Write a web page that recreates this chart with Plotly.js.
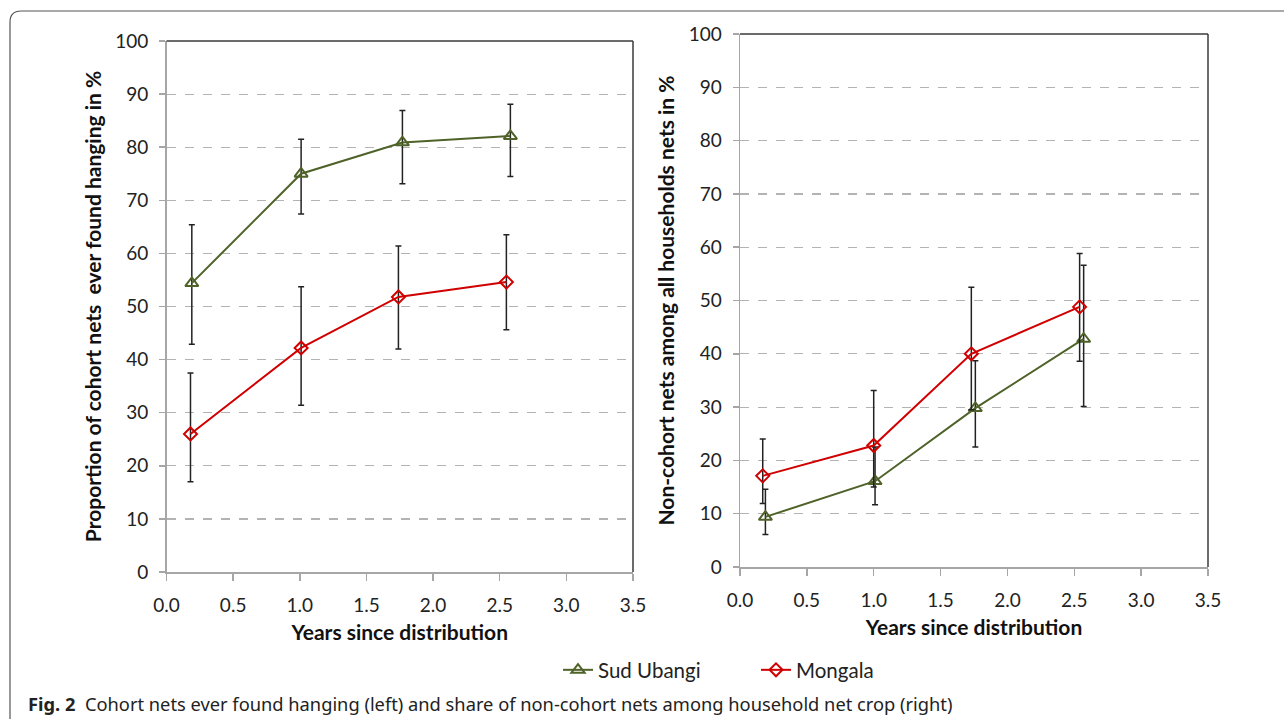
<!DOCTYPE html>
<html>
<head>
<meta charset="utf-8">
<script src="https://cdn.plot.ly/plotly-3.0.1.min.js"></script>
<style>html,body{margin:0;padding:0;background:#fff;}#chart{width:1284px;height:719px;}</style>
</head>
<body>
<div id="chart"></div>
<script>
// ---- Data ----
const seriesNames = ["Sud Ubangi", "Mongala"];
const xTickLabels = ["0.0","0.5","1.0","1.5","2.0","2.5","3.0","3.5"];

// Left panel: cohort nets ever found hanging (%)
const xSudLeft = [0.19, 1.01, 1.77, 2.58];
const ySudLeft = [54.4, 75.0, 80.9, 82.1];
const sudLeftHi = [65.4, 81.5, 86.9, 88.1];
const sudLeftLo = [42.9, 67.4, 73.1, 74.5];

const xMonLeft = [0.18, 1.01, 1.74, 2.55];
const yMonLeft = [26.0, 42.2, 51.8, 54.6];
const monLeftHi = [37.5, 53.7, 61.4, 63.5];
const monLeftLo = [17.0, 31.4, 42.0, 45.6];

// Right panel: non-cohort nets among all household nets (%)
const xSudRight = [0.19, 1.01, 1.76, 2.57];
const ySudRight = [9.4, 16.1, 29.8, 42.8];
const sudRightHi = [14.6, 22.5, 38.7, 56.6];
const sudRightLo = [6.1, 11.7, 22.5, 30.1];

const xMonRight = [0.17, 1.00, 1.73, 2.54];
const yMonRight = [17.1, 22.8, 40.0, 48.8];
const monRightHi = [24.0, 33.1, 52.5, 58.8];
const monRightLo = [11.9, 15.0, 29.5, 38.6];

// ---- Layout helpers ----
const W = 1284, H = 719;
const M = {l: 40, r: 10, t: 8, b: 80};
const fx = px => (px - M.l) / (W - M.l - M.r);
const fy = py => 1 - (py - M.t) / (H - M.t - M.b);

const GREEN = "#4f6228";
const RED = "#d00000";
const FONT = "Lato, 'Open Sans', sans-serif";

function errArr(y, hi, lo) {
  return {
    type: "data", symmetric: false,
    array: y.map((v, i) => +(hi[i] - v).toFixed(2)),
    arrayminus: y.map((v, i) => +(v - lo[i]).toFixed(2)),
    color: "#222", thickness: 1.5, width: 3
  };
}

function trace(x, y, hi, lo, name, color, symbol, size, xa, ya, showleg) {
  return {
    type: "scatter", mode: "lines+markers", name: name,
    x: x, y: y, xaxis: xa, yaxis: ya, showlegend: showleg,
    line: {color: color, width: 2},
    marker: {symbol: symbol, size: size, color: color, line: {color: color, width: 2}},
    error_y: errArr(y, hi, lo)
  };
}

const data = [
  trace(xSudLeft, ySudLeft, sudLeftHi, sudLeftLo, seriesNames[0], GREEN, "triangle-up-open", 11.5, "x", "y", true),
  trace(xMonLeft, yMonLeft, monLeftHi, monLeftLo, seriesNames[1], RED, "diamond-open", 10, "x", "y", true),
  trace(xSudRight, ySudRight, sudRightHi, sudRightLo, seriesNames[0], GREEN, "triangle-up-open", 11.5, "x2", "y2", false),
  trace(xMonRight, yMonRight, monRightHi, monRightLo, seriesNames[1], RED, "diamond-open", 10, "x2", "y2", false)
];

const tickVals = xTickLabels.map(parseFloat);

function xAxis(domain, anchor) {
  return {
    domain: domain, anchor: anchor, range: [0, 3.5],
    tickvals: tickVals, ticktext: xTickLabels,
    showline: true, linecolor: "#a6a6a6", linewidth: 1.5,
    ticks: "outside", ticklen: 7, tickcolor: "#a6a6a6", tickwidth: 1.5,
    ticklabelstandoff: 9,
    showgrid: false, zeroline: false, fixedrange: true,
    tickfont: {family: FONT, size: 19, color: "#222"},
    title: {text: "<b>Years since distribution</b>", font: {family: FONT, size: 21, color: "#111"}, standoff: 10}
  };
}
function yAxis(domain, anchor, titleText) {
  return {
    domain: domain, anchor: anchor, range: [0, 100], dtick: 10,
    showline: true, linecolor: "#a6a6a6", linewidth: 1.5,
    ticks: "outside", ticklen: 6, tickcolor: "#a6a6a6", tickwidth: 1.5,
    ticklabelstandoff: 7,
    showgrid: true, gridcolor: "#b3b3b3", griddash: "dash", gridwidth: 1.2,
    zeroline: false, fixedrange: true,
    tickfont: {family: FONT, size: 19, color: "#222"},
    title: {text: "<b>" + titleText + "</b>", font: {family: FONT, size: 21, color: "#111"}, standoff: 8}
  };
}

function frame(xd, yd) {
  return [
    {type: "line", xref: xd, yref: yd, x0: 0, x1: 1, y0: 1, y1: 1, line: {color: "#3a3a3a", width: 1.5}},
    {type: "line", xref: xd, yref: yd, x0: 1, x1: 1, y0: 0, y1: 1, line: {color: "#3a3a3a", width: 1.5}}
  ];
}

const boxPath = "M " + fx(10) + "," + fy(740) + " L " + fx(10) + "," + fy(22) +
  " Q " + fx(10) + "," + fy(11) + " " + fx(21) + "," + fy(11) + " L " + fx(1300) + "," + fy(11);

const layout = {
  width: W, height: H,
  margin: M,
  paper_bgcolor: "#fff", plot_bgcolor: "#fff",
  font: {family: FONT, color: "#222"},
  xaxis: xAxis([fx(166.5), fx(633)], "y"),
  yaxis: yAxis([fy(572), fy(41)], "x", "Proportion of cohort nets&nbsp; ever found hanging in %"),
  xaxis2: xAxis([fx(740), fx(1208)], "y2"),
  yaxis2: yAxis([fy(567), fy(34)], "x2", "Non-cohort nets among all households nets in %"),
  showlegend: true,
  legend: {
    orientation: "h", x: fx(558), y: fy(670), xanchor: "left", yanchor: "middle",
    xref: "paper", yref: "paper",
    font: {family: FONT, size: 20.5, color: "#222"},
    entrywidth: 153, entrywidthmode: "pixels",
    bgcolor: "rgba(0,0,0,0)", borderwidth: 0
  },
  shapes: [].concat(frame("x domain", "y domain"), frame("x2 domain", "y2 domain"), [
    {type: "path", xref: "paper", yref: "paper", path: boxPath, line: {color: "#555", width: 1.2}}
  ]),
  annotations: [
    {xref: "paper", yref: "paper", x: fx(26), y: fy(703), xanchor: "left", yanchor: "middle",
     showarrow: false, align: "left",
     text: "<b>Fig. 2</b>&nbsp; Cohort nets ever found hanging (left) and share of non-cohort nets among household net crop (right)",
     font: {family: "'Noto Sans', sans-serif", size: 18.3, color: "#222"}}
  ]
};

Plotly.newPlot("chart", data, layout, {displayModeBar: false, staticPlot: true});
</script>
</body>
</html>
